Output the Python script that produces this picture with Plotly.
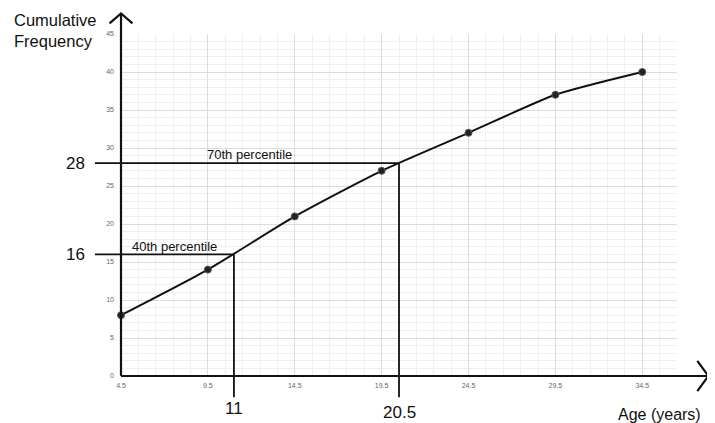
import plotly.graph_objects as go

# Cumulative frequency data (upper class boundaries)
ages = [4.5, 9.5, 14.5, 19.5, 24.5, 29.5, 34.5]
cum_freq = [8, 14, 21, 27, 32, 37, 40]

# percentile read-offs
pct_labels = ["40th percentile", "70th percentile"]
pct_freq = [16, 28]
pct_age = [11, 20.5]

x_ticks = [4.5, 9.5, 14.5, 19.5, 24.5, 29.5, 34.5]
y_ticks = [0, 5, 10, 15, 20, 25, 30, 35, 40, 45]

# page has an 8px body margin, so the figure sits at (8, 8)
PAD = 8
W, H = 715 - PAD, 423 - PAD
# plot area in figure pixels
L, R, T, B = 121 - PAD, 677 - PAD, 34 - PAD, 376 - PAD
x_lo, x_hi = 4.5, 36.5
y_lo, y_hi = 0, 45

# overlay axes span the whole figure so lines can run outside the grid
sx = (R - L) / (x_hi - x_lo)
sy = (B - T) / (y_hi - y_lo)
x2_range = [x_lo - L / sx, x_hi + (W - R) / sx]
y2_range = [y_lo - (H - B) / sy, y_hi + T / sy]

FONT = "Liberation Sans, Arial, sans-serif"
INK = "#111"

fig = go.Figure()

# ogive curve on the gridded axes
fig.add_trace(go.Scatter(
    x=ages, y=cum_freq, mode="lines+markers",
    line=dict(color=INK, width=2, shape="spline", smoothing=0.6),
    marker=dict(color="#222", size=7, line=dict(color="#555", width=1)),
    cliponaxis=False,
))

fig.update_layout(
    width=W, height=H,
    margin=dict(l=0, r=0, t=0, b=0, autoexpand=False),
    paper_bgcolor="white", plot_bgcolor="rgba(0,0,0,0)",
    showlegend=False,
    font=dict(family=FONT, color=INK),
    xaxis=dict(
        domain=[L / W, R / W], range=[x_lo, x_hi],
        tickvals=x_ticks, ticktext=[str(v) for v in x_ticks],
        tickfont=dict(size=7, color="#666"),
        showgrid=True, gridcolor="#dcdcdc", gridwidth=1,
        minor=dict(dtick=1, tick0=4.5, showgrid=True, gridcolor="#efefef"),
        zeroline=False, showline=False, ticks="", ticklabelstandoff=4,
        anchor="y", automargin=False,
    ),
    yaxis=dict(
        domain=[(H - B) / H, (H - T) / H], range=[y_lo, y_hi],
        tickvals=y_ticks,
        tickfont=dict(size=7, color="#666"),
        showgrid=True, gridcolor="#dcdcdc", gridwidth=1,
        minor=dict(dtick=1, tick0=0, showgrid=True, gridcolor="#efefef"),
        zeroline=False, showline=False, ticks="", ticklabelstandoff=6,
        anchor="x", automargin=False,
    ),
    xaxis2=dict(domain=[0, 1], range=x2_range, visible=False, anchor="y2", automargin=False),
    yaxis2=dict(domain=[0, 1], range=y2_range, visible=False, anchor="x2", automargin=False),
)

# black axes with open arrow heads
x_tip, y_tip = 38.3, 47.7
line_kw = dict(mode="lines", line=dict(color=INK, width=2.2), xaxis="x2", yaxis="y2", hoverinfo="skip")
fig.add_trace(go.Scatter(x=[x_lo, x_lo], y=[y_lo, y_tip], **line_kw))
fig.add_trace(go.Scatter(x=[x_lo, x_tip], y=[y_lo, y_lo], **line_kw))
fig.add_trace(go.Scatter(x=[x_lo - 0.66, x_lo, x_lo + 0.66], y=[y_tip - 1.3, y_tip, y_tip - 1.3], **line_kw))
fig.add_trace(go.Scatter(x=[x_tip - 0.63, x_tip, x_tip - 0.63], y=[y_lo + 2.0, y_lo, y_lo - 2.0], **line_kw))

# percentile read-off lines
x_start, y_drop = 3.0, -2.8
for f, a in zip(pct_freq, pct_age):
    fig.add_trace(go.Scatter(
        x=[x_start, a, a], y=[f, f, y_drop],
        mode="lines", line=dict(color=INK, width=1.8),
        xaxis="x2", yaxis="y2", hoverinfo="skip",
    ))

ann = []
# percentile captions
ann.append(dict(x=7.6, y=17.1, text=pct_labels[0]))
ann.append(dict(x=11.9, y=29.2, text=pct_labels[1]))
for a in ann:
    a.update(xref="x2", yref="y2", showarrow=False, font=dict(size=13, color=INK, family=FONT))

for f in pct_freq:
    ann.append(dict(x=1.9, y=f, xref="x2", yref="y2", text=str(f), showarrow=False,
                    font=dict(size=17, color=INK, family=FONT)))
for a, yy in zip(pct_age, [-4.3, -4.8]):
    ann.append(dict(x=a, y=yy, xref="x2", yref="y2", text=str(a), showarrow=False,
                    font=dict(size=17, color=INK, family=FONT)))

ann.append(dict(x=35.5, y=-5.0, xref="x2", yref="y2", text="Age (years)", showarrow=False,
                font=dict(size=16, color=INK, family=FONT)))
ann.append(dict(x=-1.75, y=45.5, xref="x2", yref="y2", xanchor="left",
                text="Cumulative<br>Frequency", align="left", showarrow=False,
                font=dict(size=16.5, color=INK, family=FONT)))

fig.update_layout(annotations=ann)

fig.write_html("out.html")
